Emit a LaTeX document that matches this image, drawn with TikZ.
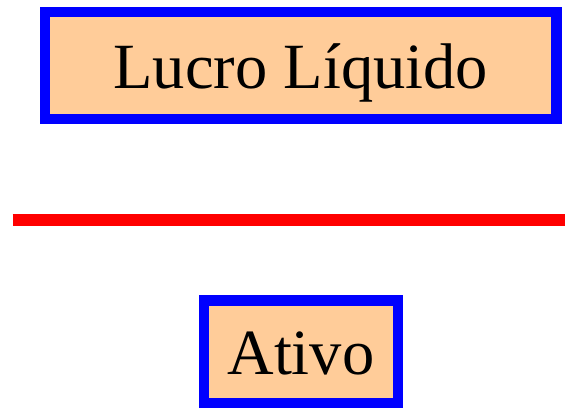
\documentclass[tikz,border=0pt]{standalone}
\usepackage{fontspec}
\setmainfont{Liberation Serif}
\definecolor{peach}{HTML}{FFCC99}
\definecolor{bblue}{HTML}{0000FF}
\definecolor{rred}{HTML}{FF0000}
\begin{document}
\begin{tikzpicture}[x=1pt,y=-1pt,
  termbox/.style={draw=bblue,fill=peach,line width=10.5pt,inner sep=0pt,
    text height=46pt,text depth=0pt,font=\fontsize{64.5}{64.5}\selectfont},
  fracline/.style={draw=rred,line width=12pt}]
\useasboundingbox (0,0) rectangle (565,408);
\node[termbox,minimum width=511.9pt,minimum height=106.7pt] (num) at (300.7,65.4) {Lucro Líquido};
\coordinate (l1) at (12.7,220);
\coordinate (l2) at (566,220);
\draw[fracline] (l1) -- (l2);
\node[termbox,minimum width=194.2pt,minimum height=102.7pt] (den) at (300.9,351.7) {Ativo};
\end{tikzpicture}
\end{document}
